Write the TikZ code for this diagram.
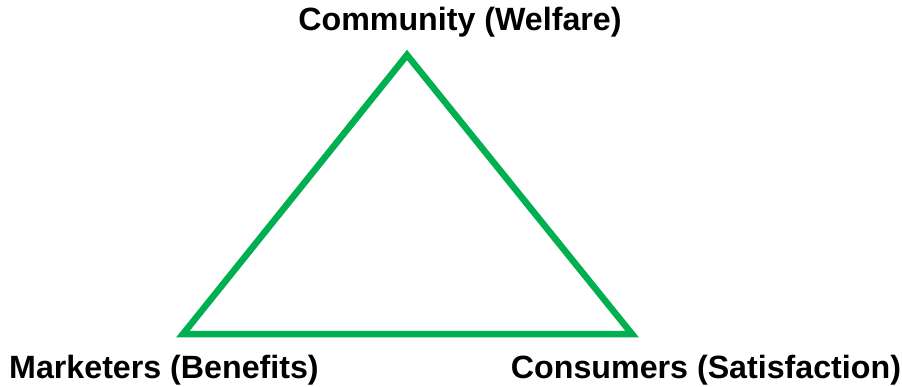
\documentclass[tikz,border=0pt]{standalone}
\usepackage{fontspec}
\setmainfont{Liberation Sans}
\usepackage{tikz}

\definecolor{triGreen}{RGB}{0,176,80}
\tikzset{label text/.style={font=\bfseries\fontsize{32.2}{36}\selectfont, inner sep=0pt}}

\begin{document}
\begin{tikzpicture}[x=1pt,y=-1pt]
            \useasboundingbox (0,0) rectangle (902,387);
            \coordinate (top) at (407,55);
            \coordinate (left) at (183,334);
            \coordinate (right) at (632,334);
            \draw[line width=6.5pt, triGreen, line join=miter] (top) -- (left) -- (right) -- cycle;
            \node[label text] (community) at (460,22) {Community (Welfare)};
            \node[label text] (marketers) at (164,370) {Marketers (Benefits)};
            \node[label text] (consumers) at (706,370) {Consumers (Satisfaction)};
        \end{tikzpicture}
\end{document}
